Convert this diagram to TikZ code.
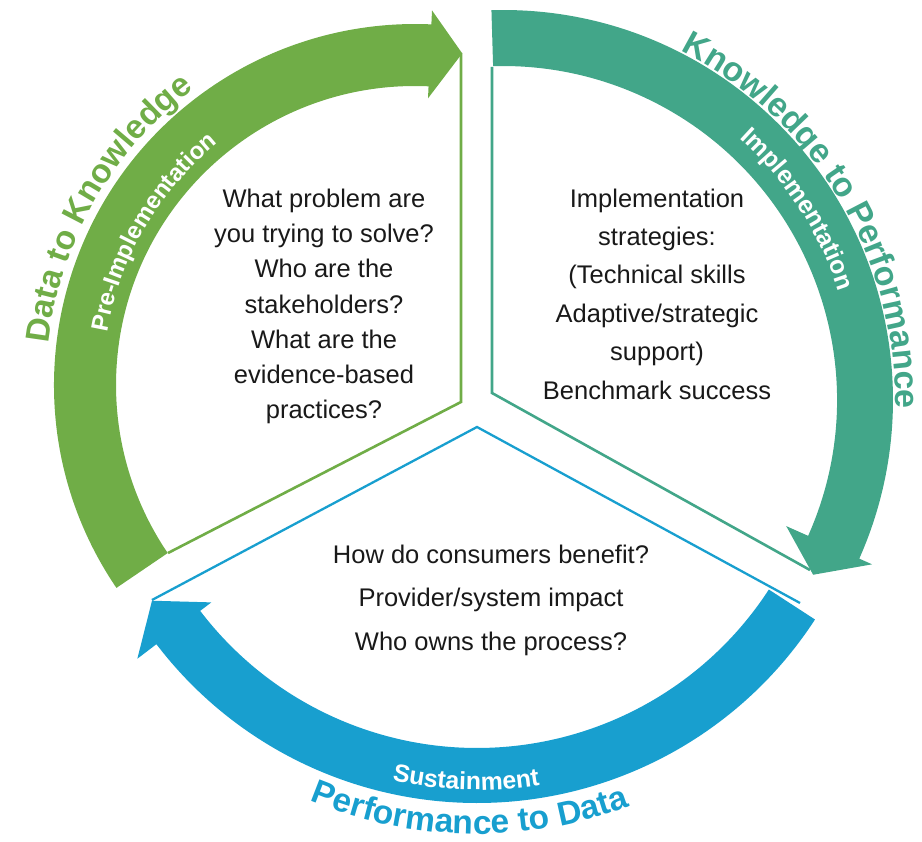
\documentclass[tikz,border=0pt]{standalone}
\usepackage{fontspec}
\setmainfont{Liberation Sans}
\usetikzlibrary{decorations.text}
\definecolor{cgreen}{RGB}{112,173,71}
\definecolor{cteal}{RGB}{66,166,137}
\definecolor{cblue}{RGB}{24,159,207}
\definecolor{ctext}{RGB}{25,25,25}
\tikzset{
  edge/.style={line width=2.6pt, line join=miter},
  bodytext/.style={inner sep=0pt, align=center, text=ctext, font=\fontsize{25.5}{35.3}\selectfont},
  curvedlabel/.style={decorate, decoration={text along path, text align=center, text={#1}}},
}
\begin{document}
\begin{tikzpicture}[x=1pt,y=1pt]
\useasboundingbox (0,0) rectangle (922,-842);

% apexes and end points of sector edges
\coordinate (gApex) at (461,-402);
\coordinate (gTop) at (461,-53);
\coordinate (gLow) at (168,-553);
\coordinate (tApex) at (492,-393);
\coordinate (tTop) at (492,-67);
\coordinate (tLow) at (810,-570);
\coordinate (bApex) at (477,-427);
\coordinate (bLeft) at (152,-600);
\coordinate (bRight) at (800,-603);

% sector edges
\draw[edge, cgreen] (gTop) -- (gApex) -- (gLow);
\draw[edge, cteal] (tTop) -- (tApex) -- (tLow);
\draw[edge, cblue, line width=2.3pt] (bLeft) -- (bApex) -- (bRight);

% green arrow
\begin{scope}[shift={(415,-385)}]
\fill[cgreen] (214.2:361) arc[start angle=214.2, end angle=87.4, radius=361]
  -- (87.4:375) -- (81.9:335) -- (87.4:287) -- (87.4:299)
  arc[start angle=87.4, end angle=214.2, radius=299] -- cycle;
\path[curvedlabel={|\bfseries\fontsize{33.5}{34}\selectfont\color{cgreen}|Data to Knowledge}]
  (190:369) arc[start angle=190, end angle=110.4, radius=369];
\path[curvedlabel={|\bfseries\fontsize{24}{26}\selectfont\color{white}|Pre-Implementation}]
  (184.75:312) arc[start angle=184.75, end angle=114.75, radius=312];
\end{scope}

% teal arrow
\begin{scope}[shift={(503,-400)}]
\fill[cteal] (91.7:390) arc[start angle=91.7, end angle=-24, radius=390]
  -- (-24:404) -- (-29.4:356) -- (-24:310) -- (-24:334)
  arc[start angle=-24, end angle=91.7, radius=334] -- cycle;
\path[curvedlabel={|\bfseries\fontsize{34}{35}\selectfont\color{cteal}|Knowledge to Performance}]
  (75.9:392) arc[start angle=75.9, end angle=-14.1, radius=392];
\path[curvedlabel={|\bfseries\fontsize{25}{26}\selectfont\color{white}|Implementation}]
  (62.9:353) arc[start angle=62.9, end angle=2.9, radius=353];
\end{scope}

% blue arrow
\begin{scope}[shift={(477,-400)}]
\fill[cblue] (-33:403) arc[start angle=-33, end angle=-142.7, radius=403]
  -- (-142.7:427) -- (-148.3:382) -- (-142.7:334) -- (-142.7:348)
  arc[start angle=-142.7, end angle=-33, radius=348] -- cycle;
\path[curvedlabel={|\bfseries\fontsize{33.5}{34}\selectfont\color{cblue}|Performance to Data}]
  (229:434) arc[start angle=229, end angle=309, radius=434];
\path[curvedlabel={|\bfseries\fontsize{24.8}{26}\selectfont\color{white}|Sustainment}]
  (233.35:390) arc[start angle=233.35, end angle=303.35, radius=390];
\end{scope}

% body texts
\node[bodytext] (gText) at (324,-306.5) {What problem are\\you trying to solve?\\Who are the\\stakeholders?\\What are the\\evidence-based\\practices?};
\node[bodytext, font=\fontsize{25.5}{38.4}\selectfont] (tText) at (657,-294) {Implementation\\strategies:\\(Technical skills\\Adaptive/strategic\\support)\\Benchmark success};
\node[bodytext, font=\fontsize{25.5}{43.5}\selectfont] (bText) at (491,-600) {How do consumers benefit?\\Provider/system impact\\Who owns the process?};
\end{tikzpicture}
\end{document}
